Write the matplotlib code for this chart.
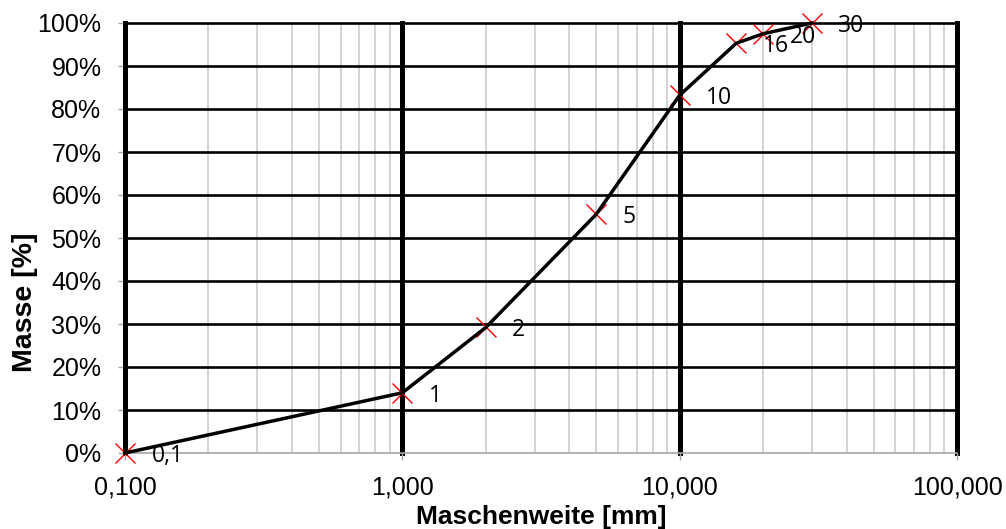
import numpy as np
import matplotlib
matplotlib.use('Agg')
import matplotlib.pyplot as plt
from matplotlib.ticker import FixedLocator, FixedFormatter, LogLocator, NullFormatter

# Siebweite [mm] und Durchgang [%]
maschenweite = [0.1, 1, 2, 5, 10, 16, 20, 30]
masse = [0.0, 14.0, 29.2, 55.5, 83.2, 95.3, 97.5, 100.0]
punkt_labels = ['0,1', '1', '2', '5', '10', '16', '20', '30']

x_ticks = [0.1, 1, 10, 100]
x_ticklabels = ['0,100', '1,000', '10,000', '100,000']
y_ticks = [0, 10, 20, 30, 40, 50, 60, 70, 80, 90, 100]
y_ticklabels = [f'{v}%' for v in y_ticks]

plt.rcParams['font.family'] = ['Liberation Sans', 'DejaVu Sans']

fig = plt.figure(figsize=(10.06, 5.29), dpi=100)
ax = fig.add_axes([125 / 1006, 76 / 529, 832 / 1006, 430 / 529])

ax.set_xscale('log')
ax.set_xlim(0.1, 100)
ax.set_ylim(0, 100)

# Gitter
ax.xaxis.set_major_locator(FixedLocator(x_ticks))
ax.xaxis.set_major_formatter(FixedFormatter(x_ticklabels))
ax.xaxis.set_minor_locator(LogLocator(base=10, subs=np.arange(2, 10)))
ax.xaxis.set_minor_formatter(NullFormatter())
ax.yaxis.set_major_locator(FixedLocator(y_ticks))
ax.yaxis.set_major_formatter(FixedFormatter(y_ticklabels))

ax.set_axisbelow(True)
ax.grid(True, which='major', axis='y', color='black', linewidth=1.9)
ax.grid(True, which='major', axis='x', color='black', linewidth=3.6)
ax.grid(True, which='minor', axis='x', color='#c8c8c8', linewidth=1.1)
for gl in ax.get_xgridlines() + ax.get_ygridlines():
    gl.set_clip_on(False)
ax.get_ygridlines()[0].set_visible(False)

ax.spines['top'].set_visible(False)
ax.spines['right'].set_visible(False)
ax.spines['left'].set_color('black')
ax.spines['left'].set_linewidth(2.6)
ax.spines['bottom'].set_color('#a6a6a6')
ax.spines['bottom'].set_linewidth(1.2)

ax.tick_params(axis='both', which='major', labelsize=18, length=5, width=1,
               color='#a6a6a6')
ax.tick_params(axis='x', which='major', pad=11)
ax.tick_params(axis='y', which='major', pad=12)
ax.tick_params(axis='x', which='minor', length=0)

# Kurve
ax.plot(maschenweite, masse, linestyle='none', marker='x', color='red',
        markersize=14, markeredgewidth=1.0, zorder=3, clip_on=False)
ax.plot(maschenweite, masse, color='black', linewidth=2.5, zorder=4,
        clip_on=False)

for xv, yv, lab in zip(maschenweite, masse, punkt_labels):
    ax.annotate(lab, (xv, yv), xytext=(19, -2), textcoords='offset points',
                ha='left', va='center', fontsize=16.5, family='Open Sans',
                annotation_clip=False)

ax.set_xlabel('Maschenweite [mm]', fontsize=19, fontweight='bold', labelpad=4)
ax.set_ylabel('Masse [%]', fontsize=20.5, fontweight='bold')
ax.yaxis.set_label_coords(-0.104, 0.35)

fig.savefig('out.png', dpi=100)
